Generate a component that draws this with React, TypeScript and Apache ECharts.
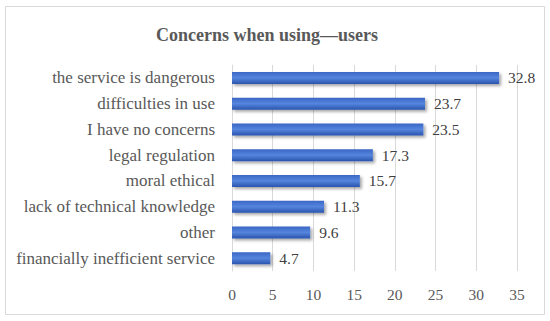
import React, { useEffect, useRef } from "react";
import * as echarts from "echarts";

const categories = [
  "the service is dangerous",
  "difficulties in use",
  "I have no concerns",
  "legal regulation",
  "moral ethical",
  "lack of technical knowledge",
  "other",
  "financially inefficient service",
];
const values = [32.8, 23.7, 23.5, 17.3, 15.7, 11.3, 9.6, 4.7];
const xTicks = [0, 5, 10, 15, 20, 25, 30, 35];

const FONT = "'Palatino Linotype', 'Book Antiqua', Palatino, 'Liberation Serif', serif";

export default function App() {
  const ref = useRef<HTMLDivElement>(null);
  useEffect(() => {
    document.body.style.margin = "0";
    const chart = echarts.init(ref.current!, null, { renderer: "svg" });
    chart.setOption({
      animation: false,
      backgroundColor: "#ffffff",
      title: {
        text: "Concerns when using\u2014users",
        left: 151,
        top: 21,
        textStyle: { fontFamily: FONT, fontSize: 18, fontWeight: "bold", color: "#595959" },
      },
      graphic: [
        {
          type: "rect",
          shape: { x: 5.5, y: 6.5, width: 539, height: 308 },
          style: { fill: "none", stroke: "#d9d9d9", lineWidth: 1 },
          silent: true,
        },
      ],
      grid: { left: 232, right: 33, top: 65, bottom: 50, containLabel: false },
      xAxis: {
        type: "value",
        min: 0,
        max: 35,
        interval: 5,
        axisLine: { show: false },
        axisTick: { show: false },
        splitLine: { show: true, lineStyle: { color: "#d9d9d9", width: 1 } },
        axisLabel: {
          margin: 15,
          fontFamily: FONT,
          fontSize: 15.5,
          color: "#595959",
          formatter: (v: number) => (xTicks.includes(v) ? String(v) : ""),
        },
      },
      yAxis: {
        type: "category",
        data: categories,
        inverse: true,
        axisLine: { show: true, lineStyle: { color: "#d9d9d9" } },
        axisTick: { show: false },
        axisLabel: { margin: 17, fontFamily: FONT, fontSize: 17, color: "#595959" },
      },
      series: [
        {
          type: "bar",
          data: values,
          barWidth: 12,
          itemStyle: {
            color: new echarts.graphic.LinearGradient(0, 0, 0, 1, [
              { offset: 0, color: "#3a66c4" },
              { offset: 0.5, color: "#5585de" },
              { offset: 1, color: "#2b55ae" },
            ]),
            shadowColor: "rgba(0,0,0,0.35)",
            shadowBlur: 3,
            shadowOffsetX: 2,
            shadowOffsetY: 2,
          },
          label: {
            show: true,
            position: "right",
            distance: 9,
            fontFamily: FONT,
            fontSize: 15.5,
            color: "#404040",
          },
        },
      ],
    });
    return () => chart.dispose();
  }, []);
  return <div ref={ref} style={{ width: 550, height: 321 }} />;
}
